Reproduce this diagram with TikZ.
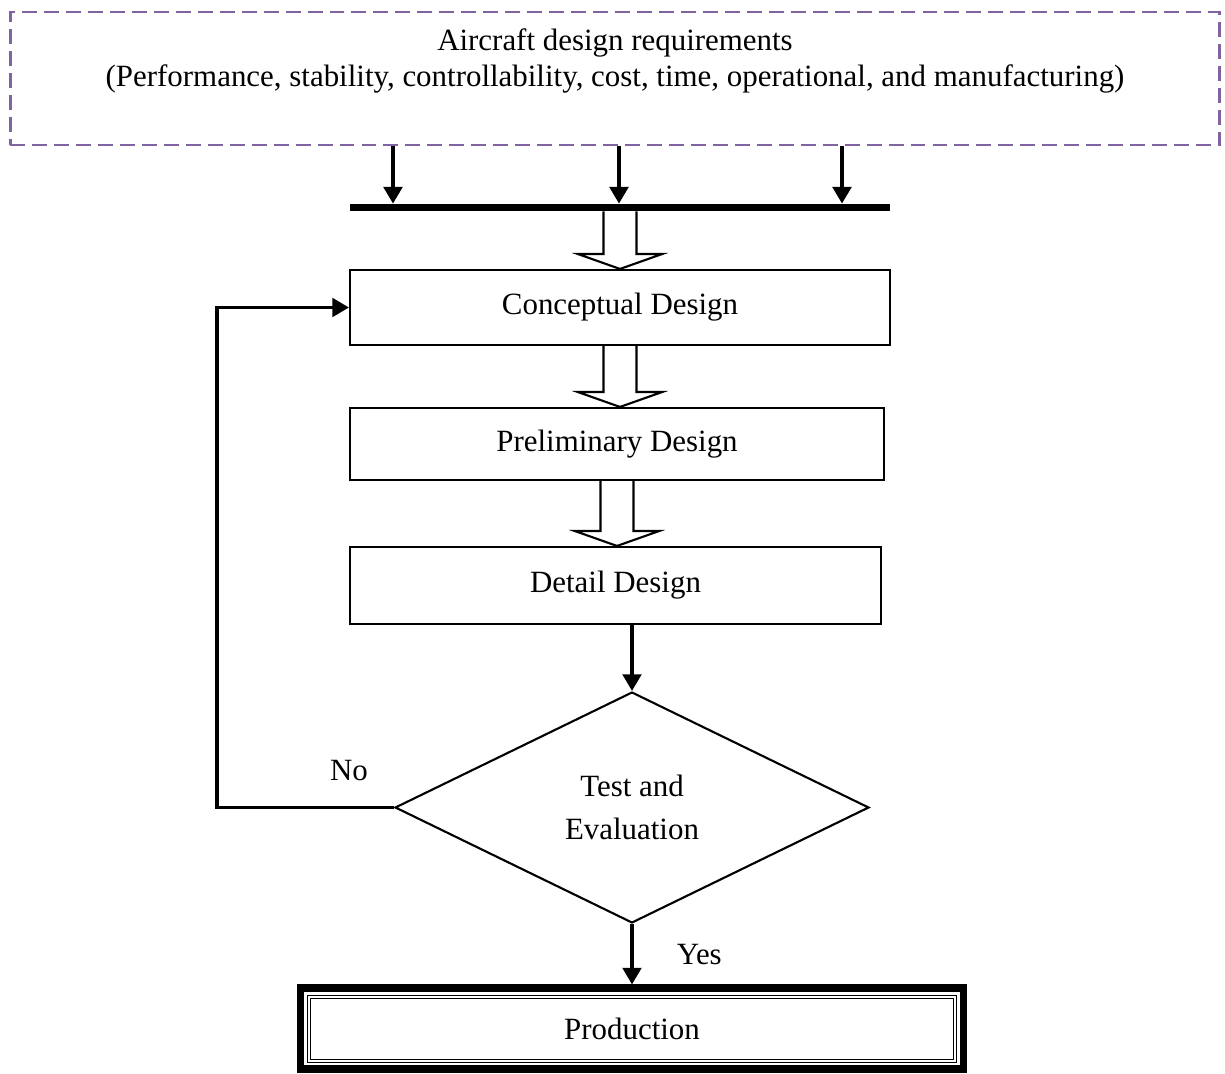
\documentclass[tikz,border=0pt]{standalone}
\usepackage{fontspec}
\setmainfont{Liberation Serif}
\usetikzlibrary{arrows.meta, calc, positioning, shapes.geometric}
\definecolor{reqpurple}{RGB}{128,100,162}

\begin{document}
\begin{tikzpicture}[x=0.02cm, y=-0.02cm,
  every node/.style={font=\fontsize{17.6}{20}\selectfont},
  box/.style={draw, line width=1.2pt, inner sep=0pt},
  arr/.style={line width=2.2pt, -{Triangle[length=9.5pt, width=10.5pt]}},
  hollow/.style={draw, line width=1.2pt, fill=white,
    to path={let \p1=(\tikztostart), \p2=(\tikztotarget) in
      (\x1-9.4pt,\y1) -- (\x1-9.4pt,\y2+8.5pt) -- (\x1-24pt,\y2+8.5pt) -- (\x1,\y2)
      -- (\x1+24pt,\y2+8.5pt) -- (\x1+9.4pt,\y2+8.5pt) -- (\x1+9.4pt,\y1)}}]
\useasboundingbox (0,0) rectangle (1225,1074);

\node[draw=reqpurple, dash pattern=on 8.5pt off 4pt, line width=1.6pt, minimum width=24.2cm, minimum height=2.66cm] (req) at (615,78.5) {};
\node[align=center] (reqtext) at (615,61) {Aircraft design requirements\\(Performance, stability, controllability, cost, time, operational, and manufacturing)};

\node[fill, minimum width=10.8cm, minimum height=0.14cm, inner sep=0pt] (bar) at (620,207.5) {};

\node[box, minimum width=10.8cm, minimum height=1.5cm] (conc) at (620,307.5) {Conceptual Design};
\node[box, minimum width=10.68cm, minimum height=1.44cm] (prel) at (617,444) {Preliminary Design};
\node[box, minimum width=10.62cm, minimum height=1.54cm] (det) at (615.5,585.5) {Detail Design};
\node[box, diamond, minimum width=9.48cm, minimum height=4.62cm, align=center] (test) at (632,807.5) {Test and\\[4pt]Evaluation};

\node[draw, line width=4pt, minimum width=13.28cm, minimum height=1.62cm] (prodframe) at (632,1028.5) {};
\node[draw, double, double distance=1.5pt, line width=0.6pt, minimum width=12.92cm, minimum height=1.28cm] (prod) at (632,1029) {Production};

% requirements feed the bar
\foreach \x in {393,619,842} {
  \coordinate (top) at (\x,0);
  \draw[arr] (req.south -| top) -- (bar.north -| top);
}

\draw[hollow] (bar.south) to (conc.north);
\draw[hollow] (conc.south) to (prel.north);
\draw[hollow] (prel.south) to (det.north);

\draw[arr] (det.south -| test.north) -- (test.north);
\draw[arr] (test.south) -- node[right=0.74cm] (yes) {Yes} (prodframe.north);

% back to the start
\draw[arr] (test.west) -- ++(-177,0) |- (conc.west);
\node[above left=0.4cm and 0.4cm of test.west] (no) {No};

\end{tikzpicture}
\end{document}
